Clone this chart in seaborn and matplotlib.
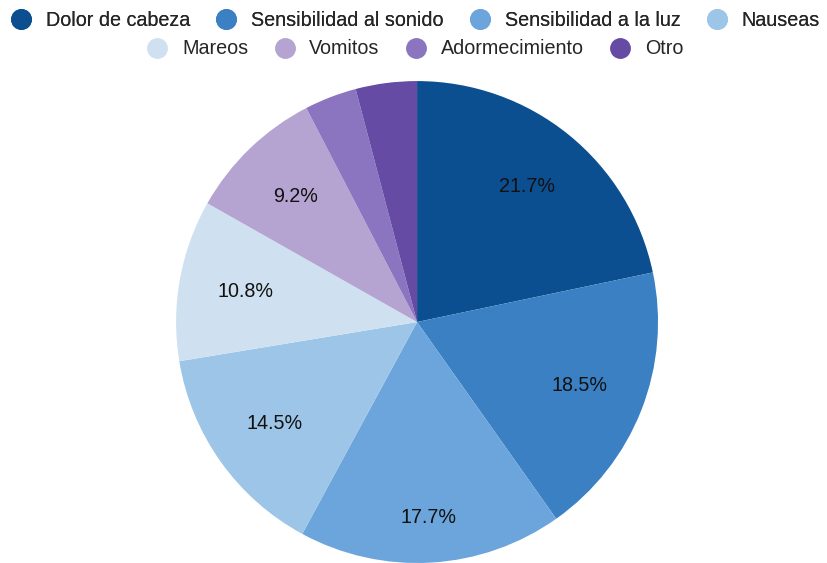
import matplotlib
matplotlib.use("Agg")
import matplotlib.pyplot as plt
from matplotlib.lines import Line2D
import seaborn as sns

labels = ["Dolor de cabeza", "Sensibilidad al sonido", "Sensibilidad a la luz", "Nauseas",
          "Mareos", "Vomitos", "Adormecimiento", "Otro"]
values = [21.7, 18.5, 17.7, 14.5, 10.8, 9.2, 3.5, 4.1]
colors = ["#0b4f90", "#3a80c2", "#6ba5dc", "#9cc5e7",
          "#cfe1f1", "#b5a4d1", "#8b75c1", "#654ba4"]

sns.set_theme(style="white")
plt.rcParams["font.family"] = ["Liberation Sans", "DejaVu Sans"]

fig = plt.figure(figsize=(8.27, 5.63), dpi=100)
ax = fig.add_axes([0.2128, 0.0, 0.583, 0.856])

wedges, texts, autotexts = ax.pie(
    values, colors=colors, startangle=90, counterclock=False,
    autopct=lambda p: f"{p:.1f}%" if p > 5 else "",
    pctdistance=0.725, wedgeprops=dict(linewidth=0),
    textprops=dict(fontsize=14.2, color="#111111"))

# the bottom label sits further out in the original
x, y = autotexts[2].get_position()
autotexts[2].set_position((x * 1.12, y * 1.12))

ax.set_xlim(-1, 1)
ax.set_ylim(-1, 1)
ax.set_aspect("equal")

handles = [Line2D([0], [0], marker="o", color="none", markerfacecolor=c,
                  markeredgecolor=c, markersize=14) for c in colors]

opts = dict(loc="center", ncol=4, frameon=False, fontsize=14.2, handletextpad=0.55,
            columnspacing=1.15, handlelength=1.4)
leg1 = fig.legend(handles[:4], labels[:4], bbox_to_anchor=(0.5, 1 - 20 / 563), **opts)
fig.add_artist(leg1)
fig.legend(handles[4:], labels[4:], bbox_to_anchor=(0.5, 1 - 49 / 563), **opts)

fig.savefig("out.png", dpi=100)
